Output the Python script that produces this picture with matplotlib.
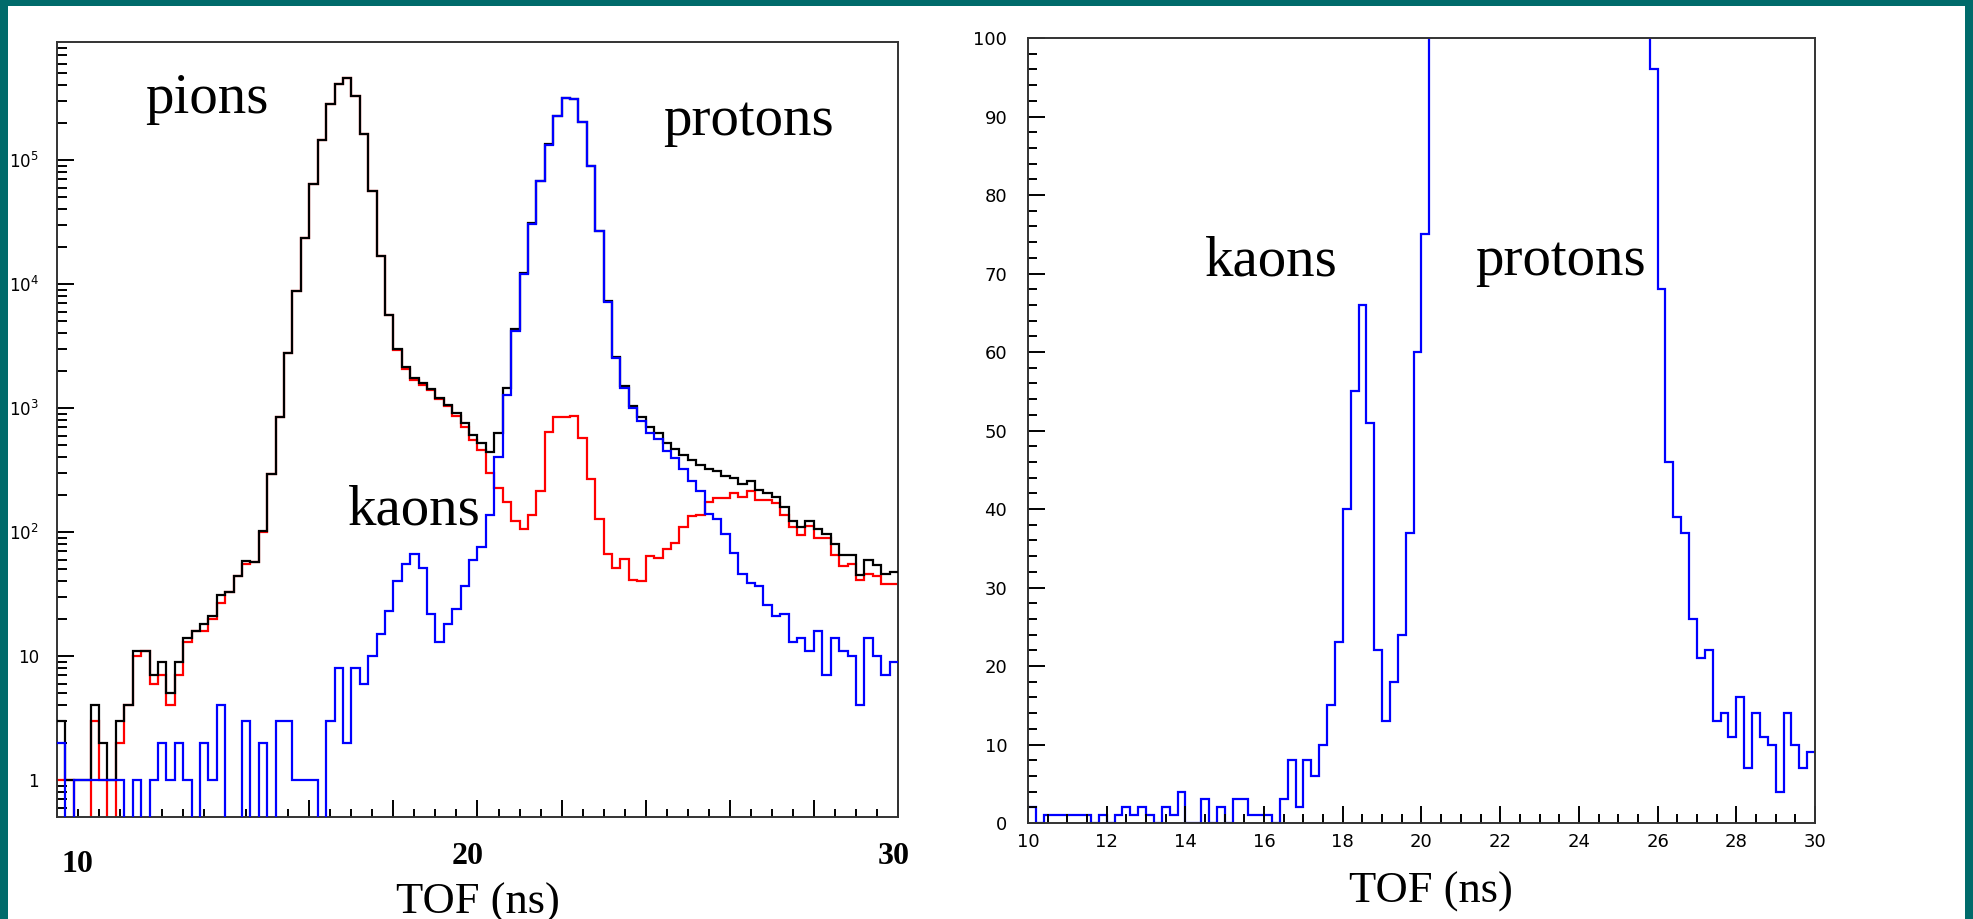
import numpy as np
import matplotlib.pyplot as plt
from matplotlib.patches import Rectangle
from matplotlib.ticker import (FixedLocator, FixedFormatter, MultipleLocator,
                               LogLocator, NullFormatter)

# TOF histograms, 0.2 ns bins from 10 to 30 ns
tof_lo, tof_hi, n_bins = 10.0, 30.0, 100

black = [3, 1, 1, 1, 4, 2, 1, 3, 4, 11,
         11, 7, 9, 5, 9, 14, 16, 18, 21, 31,
         33, 44, 58, 57, 102, 292, 851, 2790, 8770, 23600,
         63700, 145000, 281000, 408000, 456000, 328000, 161000, 56000, 16900, 5620,
         2970, 2130, 1750, 1580, 1413, 1196, 1057, 906, 752, 605,
         519, 444, 624, 1442, 4330, 12200, 30800, 67600, 134000, 226000,
         318000, 310000, 204000, 89500, 26900, 7290, 2560, 1503, 1038, 851,
         707, 625, 519, 465, 415, 380, 350, 320, 312, 285,
         274, 242, 258, 218, 208, 190, 158, 123, 109, 123,
         105, 97, 80, 65, 65, 45, 60, 54, 46, 48]

red = [1, 1, 0, 0, 3, 1, 0, 2, 4, 10,
       11, 6, 7, 4, 7, 13, 16, 16, 20, 27,
       33, 44, 55, 57, 100, 292, 848, 2787, 8769, 23599,
       63699, 145000, 281000, 408000, 456000, 328000, 161000, 56000, 16890, 5600,
       2930, 2060, 1683, 1531, 1395, 1183, 1040, 870, 705, 548,
       455, 300, 228, 173, 123, 105, 137, 214, 644, 851,
       851, 866, 576, 266, 127, 67, 51, 61, 41, 40,
       64, 62, 73, 81, 109, 135, 137, 176, 187, 187,
       205, 190, 216, 181, 180, 170, 137, 109, 95, 111,
       90, 90, 65, 53, 55, 41, 46, 44, 38, 38]

blue = [2, 0, 1, 1, 1, 1, 1, 1, 0, 1,
        0, 1, 2, 1, 2, 1, 0, 2, 1, 4,
        0, 0, 3, 0, 2, 0, 3, 3, 1, 1,
        1, 0, 3, 8, 2, 8, 6, 10, 15, 23,
        40, 55, 66, 51, 22, 13, 18, 24, 37, 60,
        75, 137, 400, 1273, 4207, 12100, 30700, 67400, 133000, 225000,
        317000, 309000, 203000, 89200, 26800, 7220, 2510, 1442, 994, 790,
        631, 559, 453, 393, 320, 258, 214, 141, 127, 96,
        68, 46, 39, 37, 26, 21, 22, 13, 14, 11,
        16, 7, 14, 11, 10, 4, 14, 10, 7, 9]

log_ticks = [1, 10, 100, 1e3, 1e4, 1e5]
log_labels = ['1', '10', '$10^{2}$', '$10^{3}$', '$10^{4}$', '$10^{5}$']
left_xlabels = ['10', '20', '30']
left_xlabel_pos = [10.48, 19.77, 29.9]

edges = np.linspace(tof_lo, tof_hi, n_bins + 1)

teal = '#006b6b'
serif = 'Liberation Serif'

fig = plt.figure(figsize=(19.73, 9.19), dpi=100, facecolor='white')
for x0, y0, w, h in [(0, 0, 8 / 1973, 1), (1965 / 1973, 0, 8 / 1973, 1),
                     (0, 1 - 6 / 919, 1, 6 / 919)]:
    fig.add_artist(Rectangle((x0, y0), w, h, transform=fig.transFigure,
                             color=teal, lw=0, zorder=0))

ax1 = fig.add_axes([0.02889, 0.11099, 0.42625, 0.84331])
ax2 = fig.add_axes([0.52103, 0.10446, 0.39889, 0.85419])

# left: log scale, all three
ax1.stairs(red, edges, color='#ff0000', lw=1.6, baseline=None, zorder=2)
ax1.stairs(black, edges, color='black', lw=1.6, baseline=None, zorder=3)
ax1.stairs(blue, edges, color='#0000ff', lw=1.6, baseline=None, zorder=4)
ax1.set_yscale('log')
ax1.set_xlim(tof_lo, tof_hi)
ax1.set_ylim(0.503, 8.95e5)

ax1.xaxis.set_major_locator(MultipleLocator(2))
ax1.xaxis.set_minor_locator(MultipleLocator(0.5))
ax1.xaxis.set_major_formatter(NullFormatter())
ax1.yaxis.set_major_locator(FixedLocator(log_ticks))
ax1.yaxis.set_major_formatter(FixedFormatter(log_labels))
ax1.yaxis.set_minor_locator(LogLocator(base=10, subs=np.arange(2, 10)))
ax1.yaxis.set_minor_formatter(NullFormatter())
ax1.tick_params(which='both', direction='in', top=False, right=False, width=1.4)
ax1.tick_params(which='major', length=12)
ax1.tick_params(axis='y', which='minor', length=7)
ax1.tick_params(axis='x', which='minor', length=6)
ax1.tick_params(axis='y', labelsize=12, pad=13)

for lab, xp in zip(left_xlabels, left_xlabel_pos):
    yb = -0.071 if lab == '10' else -0.0606
    ax1.text(xp, yb, lab, transform=ax1.get_xaxis_transform(), ha='center',
             va='baseline', fontsize=23, fontweight='bold', family=serif)

ax1.text(0.5, -0.1239, 'TOF (ns)', transform=ax1.transAxes, ha='center',
         va='baseline', fontsize=32, family=serif)
ax1.text(0.1046, 0.908, 'pions', transform=ax1.transAxes, fontsize=41,
         family=serif, va='baseline')
ax1.text(0.7206, 0.880, 'protons', transform=ax1.transAxes, fontsize=41,
         family=serif, va='baseline')
ax1.text(0.346, 0.3768, 'kaons', transform=ax1.transAxes, fontsize=41,
         family=serif, va='baseline')

# right: linear zoom on blue
ax2.stairs(blue, edges, color='#0000ff', lw=1.6, baseline=None)
ax2.set_xlim(tof_lo, tof_hi)
ax2.set_ylim(0, 100)
ax2.xaxis.set_major_locator(MultipleLocator(2))
ax2.xaxis.set_minor_locator(MultipleLocator(0.5))
ax2.yaxis.set_major_locator(MultipleLocator(10))
ax2.yaxis.set_minor_locator(MultipleLocator(2))
ax2.tick_params(which='both', direction='in', top=False, right=False, width=1.4)
ax2.tick_params(which='major', length=12)
ax2.tick_params(which='minor', length=6.5)
ax2.tick_params(axis='y', labelsize=13, pad=15)
ax2.tick_params(axis='x', labelsize=13, pad=7)

ax2.text(0.5115, -0.1019, 'TOF (ns)', transform=ax2.transAxes, ha='center',
         va='baseline', fontsize=32, family=serif)
ax2.text(0.2249, 0.698, 'kaons', transform=ax2.transAxes, fontsize=41,
         family=serif, va='baseline')
ax2.text(0.568, 0.698, 'protons', transform=ax2.transAxes, fontsize=41,
         family=serif, va='baseline')

for ax in (ax1, ax2):
    for sp in ax.spines.values():
        sp.set_linewidth(1.4)
        sp.set_color('#333333')

fig.savefig('out.png', dpi=100, facecolor=fig.get_facecolor())
